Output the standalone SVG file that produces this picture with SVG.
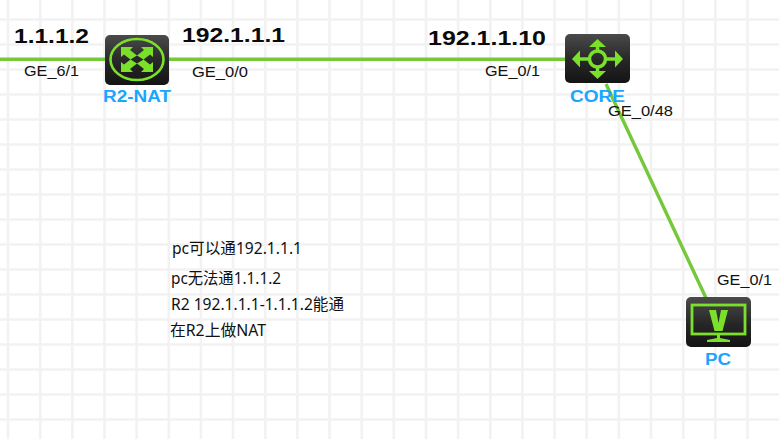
<svg xmlns="http://www.w3.org/2000/svg" width="779" height="439" viewBox="0 0 779 439">
<style>
.g{stroke:#f2f2f2;stroke-width:2.6;fill:none}
.l{stroke:#74c83a;stroke-width:3.4;fill:none}
.ip{font:bold 21px "Liberation Sans",Arial,sans-serif;fill:#0a0a0a}
.p{font:14.5px "Liberation Sans",Arial,sans-serif;fill:#111}
.n{font:bold 16px "Liberation Sans",Arial,sans-serif;fill:#1aa5ff}
.t{font:15.500px "Noto Sans","Noto Sans CJK SC",sans-serif;fill:#111}
.b{fill:url(#bg)}
.i{stroke:#7be02a;fill:none}
.f{fill:#7be02a}
</style>
<defs>
<linearGradient id="bg" x1="0" y1="0" x2="0" y2="1"><stop offset="0" stop-color="#4a4a4a"/><stop offset="0.55" stop-color="#262626"/><stop offset="1" stop-color="#141414"/></linearGradient>
</defs>
<rect width="779" height="439" fill="#fff"/>
<path class="g" d="M8 0V439M40.200 0V439M72.300 0V439M104.500 0V439M136.600 0V439M168.800 0V439M200.900 0V439M233 0V439M265.200 0V439M297.400 0V439M329.500 0V439M361.700 0V439M393.800 0V439M426 0V439M458.100 0V439M490.300 0V439M522.400 0V439M554.600 0V439M586.700 0V439M618.900 0V439M651 0V439M683.200 0V439M715.300 0V439M747.500 0V439M0 19.500H779M0 44.500H779M0 69.500H779M0 94.500H779M0 119.500H779M0 144.500H779M0 169.500H779M0 194.500H779M0 219.500H779M0 244.500H779M0 269.500H779M0 294.500H779M0 319.500H779M0 344.500H779M0 369.500H779M0 394.500H779M0 419.500H779"/>
<g id="connectors">
<path class="l" d="M0 59.300H566"/>
<path class="l" d="M606 84L706 298"/>
</g>
<g id="node-r2-nat">
<rect class="b" x="105" y="35" width="64" height="50" rx="5"/>
<ellipse class="i" cx="137" cy="59.500" rx="26.500" ry="20.500" stroke-width="2.600"/>
<path class="f" d="M121 47H133L130 50L137 55.500L144 50L141 47H153V57L150 54.500L143.500 59.500L150 64.500L153 62V72H141L144 69L137 63.500L130 69L133 72H121V62L124 64.500L130.500 59.500L124 54.500L121 57Z"/>
<path d="M137 55.500L143.500 59.500L137 63.500L130.500 59.500Z" fill="#262626"/>
<text class="n" x="103" y="102" textLength="68" lengthAdjust="spacingAndGlyphs">R2-NAT</text>
</g>
<g id="node-core">
<rect class="b" x="565" y="34" width="65" height="49" rx="5"/>
<circle class="i" cx="597.500" cy="59" r="8" stroke-width="3.500"/>
<path class="i" stroke-width="3.500" d="M597.500 51V41M597.500 67V77M589.500 59H576M605.500 59H619"/>
<path class="f" d="M597.500 39L606 47H589ZM597.500 79L606 71H589ZM572 59L580 50.500V67.500ZM623 59L615 50.500V67.500Z"/>
<text class="n" x="570" y="102" textLength="55" lengthAdjust="spacingAndGlyphs">CORE</text>
</g>
<g id="node-pc">
<rect class="b" x="686" y="297" width="65" height="50" rx="5"/>
<rect class="i" x="692" y="305" width="53" height="29" stroke-width="2.800"/>
<path class="f" d="M709 310H716L718.500 323L721 310H728L722.500 331H714.500Z"/>
<path class="f" d="M717 335H720V338L730 340V342H707V340L717 338Z"/>
<text class="n" x="705" y="365" textLength="26" lengthAdjust="spacingAndGlyphs">PC</text>
</g>
<g id="labels">
<text class="ip" x="14" y="43" textLength="75" lengthAdjust="spacingAndGlyphs">1.1.1.2</text>
<text class="ip" x="182" y="42" textLength="103" lengthAdjust="spacingAndGlyphs">192.1.1.1</text>
<text class="ip" x="428" y="45" textLength="118" lengthAdjust="spacingAndGlyphs">192.1.1.10</text>
<text class="p" x="24" y="76" textLength="55" lengthAdjust="spacingAndGlyphs">GE_6/1</text>
<text class="p" x="192" y="77" textLength="56" lengthAdjust="spacingAndGlyphs">GE_0/0</text>
<text class="p" x="485" y="76" textLength="55" lengthAdjust="spacingAndGlyphs">GE_0/1</text>
<text class="p" x="608" y="116" textLength="65" lengthAdjust="spacingAndGlyphs">GE_0/48</text>
<text class="p" x="717" y="285" textLength="55" lengthAdjust="spacingAndGlyphs">GE_0/1</text>
<text class="t" x="172" y="254" textLength="130" lengthAdjust="spacingAndGlyphs">pc可以通192.1.1.1</text>
<text class="t" x="171" y="284" textLength="110" lengthAdjust="spacingAndGlyphs">pc无法通1.1.1.2</text>
<text class="t" x="171" y="310" textLength="173" lengthAdjust="spacingAndGlyphs">R2 192.1.1.1-1.1.1.2能通</text>
<text class="t" x="170" y="336" textLength="96" lengthAdjust="spacingAndGlyphs">在R2上做NAT</text>
</g>
</svg>
